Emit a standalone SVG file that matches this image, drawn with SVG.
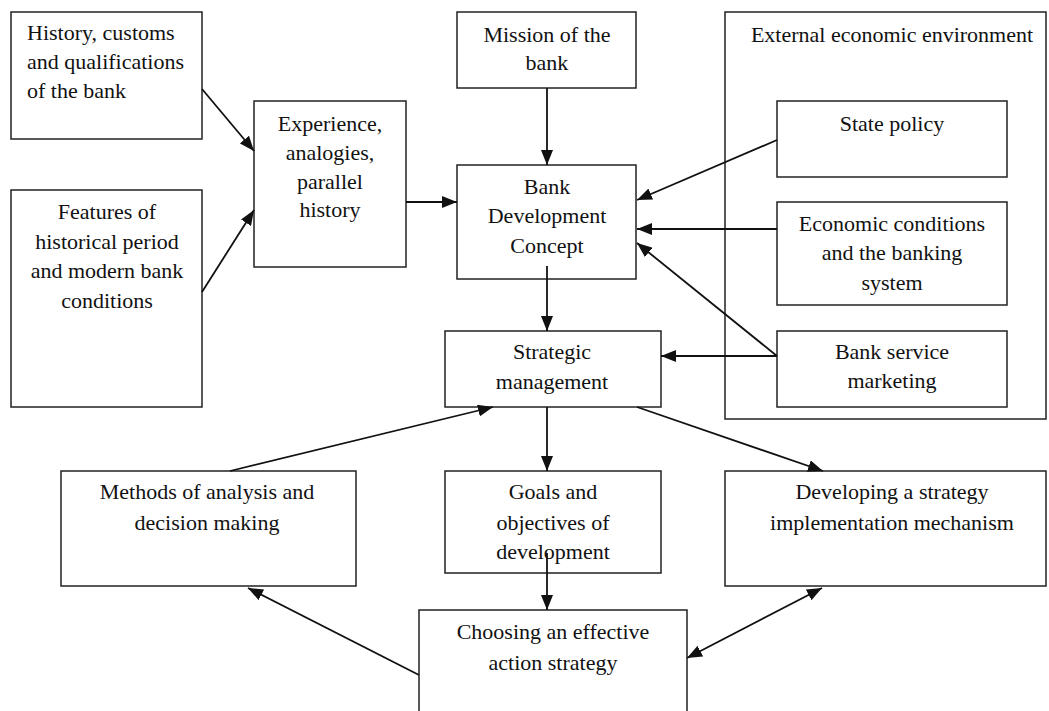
<svg xmlns="http://www.w3.org/2000/svg" width="1049" height="711" viewBox="0 0 1049 711">
<defs>
<style>
.box{fill:#fff;stroke:#222;stroke-width:1.5}
.t{font-family:"Liberation Serif","Times New Roman",serif;font-size:22px;fill:#111;text-anchor:middle}
.l{text-anchor:start}
.c{fill:none;stroke:#111;stroke-width:1.8}
</style>
<marker id="ah" markerWidth="15" markerHeight="12" refX="15" refY="6" orient="auto-start-reverse" markerUnits="userSpaceOnUse">
<path d="M0,0 L15,6 L0,12 z" fill="#111"/>
</marker>
</defs>
<rect width="1049" height="711" fill="#fff"/>

<g id="external">
<rect class="box" x="725" y="12" width="321" height="407"/>
<text class="t" x="892" y="42">External economic environment</text>
</g>
<g id="history">
<rect class="box" x="11" y="12" width="191" height="127"/>
<text class="t l" x="27" y="40">History, customs</text>
<text class="t l" x="27" y="69">and qualifications</text>
<text class="t l" x="27" y="98">of the bank</text>
</g>
<g id="features">
<rect class="box" x="11" y="190" width="191" height="217"/>
<text class="t" x="107" y="219">Features of</text>
<text class="t" x="107" y="249">historical period</text>
<text class="t" x="107" y="278">and modern bank</text>
<text class="t" x="107" y="308">conditions</text>
</g>
<g id="experience">
<rect class="box" x="254" y="101" width="152" height="166"/>
<text class="t" x="330" y="131">Experience,</text>
<text class="t" x="330" y="160">analogies,</text>
<text class="t" x="330" y="189">parallel</text>
<text class="t" x="330" y="217">history</text>
</g>
<g id="mission">
<rect class="box" x="457" y="12" width="179" height="76"/>
<text class="t" x="547" y="42">Mission of the</text>
<text class="t" x="547" y="70">bank</text>
</g>
<g id="concept">
<rect class="box" x="457" y="165" width="179" height="114"/>
<text class="t" x="547" y="194">Bank</text>
<text class="t" x="547" y="223">Development</text>
<text class="t" x="547" y="253">Concept</text>
</g>
<g id="strategic">
<rect class="box" x="445" y="331" width="216" height="76"/>
<text class="t" x="552" y="359">Strategic</text>
<text class="t" x="552" y="389">management</text>
</g>
<g id="state">
<rect class="box" x="777" y="101" width="230" height="76"/>
<text class="t" x="892" y="131">State policy</text>
</g>
<g id="economic">
<rect class="box" x="777" y="202" width="230" height="103"/>
<text class="t" x="892" y="231">Economic conditions</text>
<text class="t" x="892" y="260">and the banking</text>
<text class="t" x="892" y="290">system</text>
</g>
<g id="marketing">
<rect class="box" x="777" y="331" width="230" height="76"/>
<text class="t" x="892" y="359">Bank service</text>
<text class="t" x="892" y="388">marketing</text>
</g>
<g id="methods">
<rect class="box" x="61" y="471" width="295" height="115"/>
<text class="t" x="207" y="499">Methods of analysis and</text>
<text class="t" x="207" y="530">decision making</text>
</g>
<g id="goals">
<rect class="box" x="445" y="471" width="216" height="102"/>
<text class="t" x="553" y="499">Goals and</text>
<text class="t" x="553" y="530">objectives of</text>
<text class="t" x="553" y="559">development</text>
</g>
<g id="developing">
<rect class="box" x="725" y="471" width="321" height="115"/>
<text class="t" x="892" y="499">Developing a strategy</text>
<text class="t" x="892" y="530">implementation mechanism</text>
</g>
<g id="choosing">
<rect class="box" x="419" y="610" width="268" height="110"/>
<text class="t" x="553" y="639">Choosing an effective</text>
<text class="t" x="553" y="670">action strategy</text>
</g>

<g id="connectors">
<line class="c" x1="202" y1="89" x2="254" y2="151" marker-end="url(#ah)"/>
<line class="c" x1="202" y1="292" x2="254" y2="210" marker-end="url(#ah)"/>
<line class="c" x1="406" y1="202" x2="457" y2="202" marker-end="url(#ah)"/>
<line class="c" x1="547" y1="88" x2="547" y2="165" marker-end="url(#ah)"/>
<line class="c" x1="777" y1="140" x2="637" y2="200" marker-end="url(#ah)"/>
<line class="c" x1="777" y1="229" x2="637" y2="229" marker-end="url(#ah)"/>
<line class="c" x1="777" y1="356" x2="637" y2="243" marker-end="url(#ah)"/>
<line class="c" x1="777" y1="356" x2="661" y2="356" marker-end="url(#ah)"/>
<line class="c" x1="547" y1="266" x2="547" y2="331" marker-end="url(#ah)"/>
<line class="c" x1="547" y1="407" x2="547" y2="471" marker-end="url(#ah)"/>
<line class="c" x1="230" y1="471" x2="493" y2="407" marker-end="url(#ah)"/>
<line class="c" x1="637" y1="407" x2="823" y2="471" marker-end="url(#ah)"/>
<line class="c" x1="547" y1="553" x2="547" y2="610" marker-end="url(#ah)"/>
<line class="c" x1="419" y1="675" x2="248" y2="588" marker-end="url(#ah)"/>
<line class="c" x1="687" y1="658" x2="822" y2="588" marker-start="url(#ah)" marker-end="url(#ah)"/>
</g>
</svg>
